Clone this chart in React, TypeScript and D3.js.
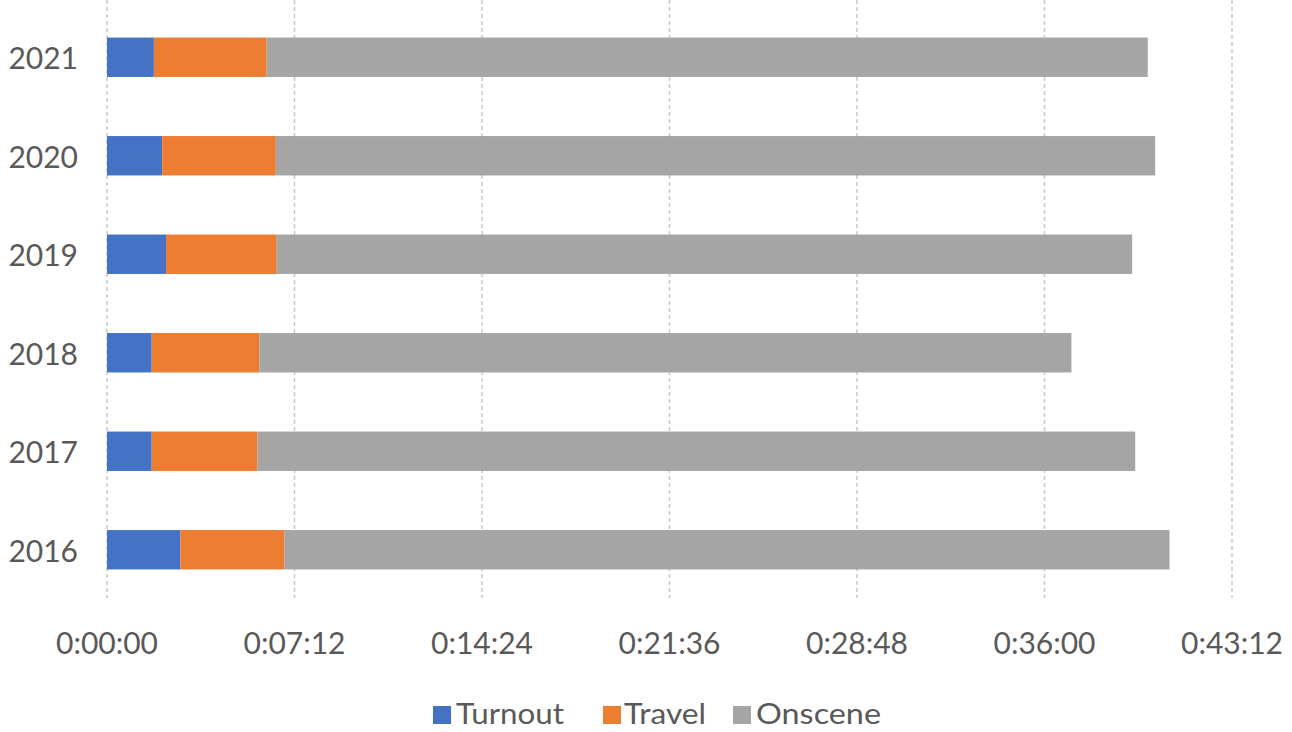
import React from "react";
import * as d3 from "d3";

const years = ["2021", "2020", "2019", "2018", "2017", "2016"];
const turnout = [108, 127, 136, 103, 103, 169];
const travel = [260, 262, 255, 248, 244, 240];
const onscene = [2030, 2026, 1971, 1871, 2022, 2039];
const tickSeconds = [0, 432, 864, 1296, 1728, 2160, 2592];
const seriesNames = ["Turnout", "Travel", "Onscene"];
const seriesColors = ["#4472C4", "#ED7D31", "#A5A5A5"];

const W = 1292;
const H = 732;

function fmt(s: number) {
  const h = Math.floor(s / 3600);
  const m = Math.floor((s % 3600) / 60);
  const sec = s % 60;
  return `${h}:${String(m).padStart(2, "0")}:${String(sec).padStart(2, "0")}`;
}

export default function App() {
  const x = d3.scaleLinear().domain([0, 2592]).range([107, 1232]);
  const y = d3.scaleBand().domain(years).range([8, 599]).paddingInner(0.6).paddingOuter(0.3);
  const rows = years.map((yr, i) => ({ year: yr, Turnout: turnout[i], Travel: travel[i], Onscene: onscene[i] }));
  const stacked = d3.stack<any>().keys(seriesNames)(rows);
  const font = "Lato, 'Open Sans', sans-serif";
  const textColor = "#595959";

  const legendItems = [
    { name: "Turnout", sx: 433, tx: 456, len: 108 },
    { name: "Travel", sx: 603, tx: 624, len: 82 },
    { name: "Onscene", sx: 733, tx: 756, len: 125 },
  ];

  return (
    <svg width={W} height={H} style={{ position: "absolute", left: 0, top: 0, background: "#fff" }}>
      <rect width={W} height={H} fill="#fff" />
      {tickSeconds.map((t) => (
        <line key={t} x1={x(t)} x2={x(t)} y1={0} y2={598} stroke="#C8C8C8" strokeWidth={1.5} strokeDasharray="4,3" />
      ))}
      {stacked.map((layer, si) => (
        <g key={layer.key} fill={seriesColors[si]}>
          {layer.map((d: any, i: number) => (
            <rect key={i} x={x(d[0])} y={y(years[i])!} width={x(d[1]) - x(d[0])} height={y.bandwidth()} />
          ))}
        </g>
      ))}
      {years.map((yr) => (
        <text key={yr} x={78} y={y(yr)! + y.bandwidth() / 2} textAnchor="end" dominantBaseline="central"
          fontFamily={font} fontSize={30} fill={textColor}>{yr}</text>
      ))}
      {tickSeconds.map((t) => (
        <text key={t} x={x(t)} y={642} textAnchor="middle" dominantBaseline="central"
          fontFamily={font} fontSize={30} fill={textColor}>{fmt(t)}</text>
      ))}
      {legendItems.map((it, i) => (
        <g key={it.name}>
          <rect x={it.sx} y={706} width={18} height={18} fill={seriesColors[i]} />
          <text x={it.tx} y={724} fontFamily={font} fontSize={28}
            textLength={it.len} lengthAdjust="spacingAndGlyphs" fill={textColor}>{it.name}</text>
        </g>
      ))}
    </svg>
  );
}
